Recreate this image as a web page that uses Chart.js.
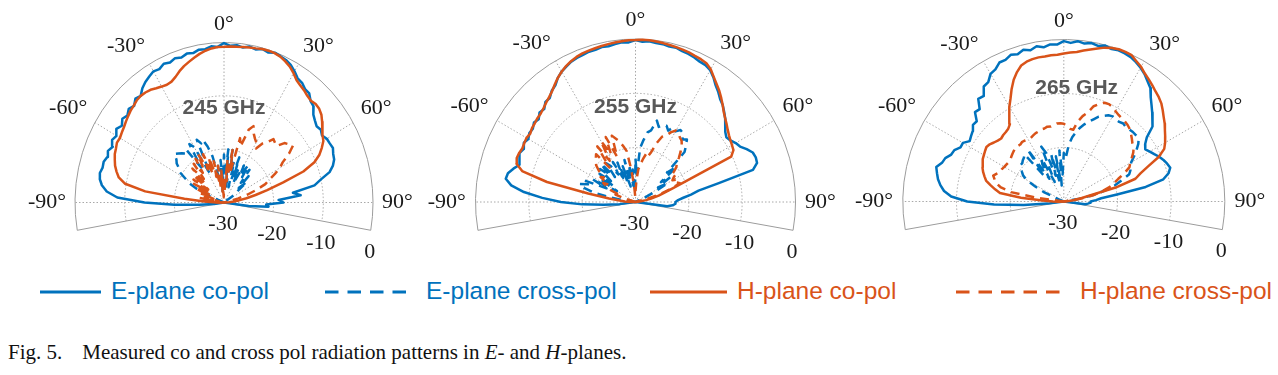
<!DOCTYPE html>
<html>
<head>
<meta charset="utf-8">
<script src="https://cdn.jsdelivr.net/npm/chart.js@4.4.1/dist/chart.umd.min.js"></script>
<style>
    html, body { margin: 0; padding: 0; background: #fff; }
    body { width: 1278px; height: 375px; position: relative; overflow: hidden; }
    .plot { position: absolute; top: 0; width: 426px; height: 270px; }
    .lg { position: absolute; top: 276px; font-family: "Liberation Sans", Arial, sans-serif; font-size: 24.5px; line-height: 30px; white-space: nowrap; }
    #caption { position: absolute; left: 8px; top: 340px; font-family: "Liberation Serif", "Times New Roman", serif; font-size: 21px; white-space: nowrap; color: #111; }
    #caption .gap { display: inline-block; width: 20px; }
</style>
</head>
<body>
<canvas id="plot1" class="plot" style="left:0px" width="426" height="270"></canvas>
<canvas id="plot2" class="plot" style="left:426px" width="426" height="270"></canvas>
<canvas id="plot3" class="plot" style="left:852px" width="426" height="270"></canvas>

<svg width="1278" height="30" style="position:absolute;left:0;top:277px">
    <line x1="40" y1="15" x2="101" y2="15" stroke="#0072BD" stroke-width="3"/>
    <line x1="325" y1="15" x2="409" y2="15" stroke="#0072BD" stroke-width="3" stroke-dasharray="13.5 9"/>
    <line x1="650" y1="15" x2="727" y2="15" stroke="#D95319" stroke-width="3"/>
    <line x1="956" y1="15" x2="1060" y2="15" stroke="#D95319" stroke-width="3" stroke-dasharray="13.5 9"/>
</svg>
<span class="lg" style="left:111px;color:#0072BD">E-plane co-pol</span>
<span class="lg" style="left:426px;color:#0072BD">E-plane cross-pol</span>
<span class="lg" style="left:737px;color:#D95319">H-plane co-pol</span>
<span class="lg" style="left:1080px;color:#D95319">H-plane cross-pol</span>

<div id="caption">Fig. 5.<span class="gap"></span>Measured co and cross pol radiation patterns in <i>E</i>- and <i>H</i>-planes.</div>

<script>
// Angles (deg, 0 = broadside), 2.5 deg steps
const ANGLES = [-100, -97.5, -95, -92.5, -90, -87.5, -85, -82.5,
    -80, -77.5, -75, -72.5, -70, -67.5, -65, -62.5,
    -60, -57.5, -55, -52.5, -50, -47.5, -45, -42.5,
    -40, -37.5, -35, -32.5, -30, -27.5, -25, -22.5,
    -20, -17.5, -15, -12.5, -10, -7.5, -5, -2.5,
    0, 2.5, 5, 7.5, 10, 12.5, 15, 17.5,
    20, 22.5, 25, 27.5, 30, 32.5, 35, 37.5,
    40, 42.5, 45, 47.5, 50, 52.5, 55, 57.5,
    60, 62.5, 65, 67.5, 70, 72.5, 75, 77.5,
    80, 82.5, 85, 87.5, 90, 92.5, 95, 97.5,
    100];

// Axis ticks
const THETA_TICKS = [-90, -60, -30, 0, 30, 60, 90];
const THETA_LIMIT = 100;
const R_TICKS = [-30, -20, -10, 0];
const R_MIN = -30, R_MAX = 0;
const FREQS = ['245 GHz', '255 GHz', '265 GHz'];

// ---- 245 GHz (dB) ----
const E1_CO = [-30, -28, -25, -20, -14, -8.5, -6.3, -5.2,
    -4.6, -4.4, -4.7, -4.6, -5.0, -4.7, -5.3, -4.6,
    -5.0, -4.3, -4.9, -4.2, -4.6, -4.0, -4.4, -3.6,
    -3.9, -3.0, -2.4, -2.0, -1.6, -1.8, -1.3, -1.6,
    -1.2, -1.5, -1.1, -1.3, -0.9, -1.0, -0.6, -0.8,
    -0.1, -0.6, -0.4, -0.7, -0.3, -0.6, -0.2, -0.5,
    -0.1, -0.3, -0.5, -0.9, -1.6, -2.4, -2.6, -3.2,
    -3.3, -4.2, -4.5, -5.6, -6.1, -6.5, -6.2, -6.6,
    -6.1, -6.0, -5.8, -6.2, -6.4, -7.0, -8.0, -10.0,
    -11.5, -16, -14.5, -19, -18, -21.5, -21, -25,
    -30];
const E1_X = [-33, -33, -33, -33, -33, -33, -33, -33,
    -33, -33, -33, -33, -33, -27, -24, -22,
    -21, -19.5, -19, -18, -17.5, -16.5, -17, -17.5,
    -18, -17.5, -22, -17, -18, -24, -17, -18,
    -17.5, -19, -21, -25, -23, -28, -22, -26,
    -21, -25, -20, -27, -20, -24, -22, -27,
    -21, -25, -23, -26, -22, -24, -21.5, -24,
    -22, -25, -23, -26, -24, -27, -28, -33,
    -33, -33, -33, -33, -33, -33, -33, -33,
    -33, -33, -33, -33, -33, -33, -33, -33,
    -33];
const H1_CO = [-32, -32, -31, -30, -28.5, -26, -22, -14,
    -9.8, -8.3, -7.6, -7.0, -6.6, -6.2, -6.0, -5.7,
    -5.8, -5.6, -5.4, -5.1, -4.8, -4.5, -4.3, -4.0,
    -3.9, -4.0, -4.2, -4.6, -4.9, -5.1, -5.0, -4.5,
    -3.8, -3.2, -2.7, -2.2, -1.7, -1.3, -1.0, -0.8,
    -0.8, -0.7, -0.7, -0.6, -0.5, -0.4, -0.2, -0.15,
    -0.2, -0.4, -0.8, -1.3, -2.0, -2.8, -3.2, -3.5,
    -3.9, -4.1, -3.9, -4.0, -4.4, -5.1, -5.9, -6.4,
    -6.9, -7.8, -8.8, -10.3, -13, -17.5, -21, -23.5,
    -25.4, -27, -28, -29, -30, -31, -31, -31,
    -31];
const H1_X = [-33, -33, -33, -33, -33, -28, -26, -28,
    -25, -29, -26, -28, -25, -27, -24, -27,
    -23, -26, -22.5, -26, -22, -25, -21, -24,
    -20.5, -23, -20, -22, -19.5, -23, -20, -24,
    -21, -25, -22, -27, -23, -28, -24, -29,
    -25, -28, -22, -26, -20, -24, -17.5, -19,
    -15.5, -14.5, -15.8, -16.5, -17, -18, -16.5, -15.8,
    -14.5, -14.8, -15, -13.5, -13, -12.5, -14, -16,
    -17, -18.5, -20, -21, -23, -25, -27, -29,
    -33, -33, -33, -33, -33, -33, -33, -33,
    -33];

// ---- 255 GHz (dB) ----
const E2_CO = [-30, -27, -24, -20, -16, -12.5, -9, -6.5,
    -5.3, -5.5, -6.3, -7.2, -6.8, -6.5, -6.9, -6.4,
    -6.8, -6.4, -6.5, -6.0, -6.3, -5.6, -5.8, -5.0,
    -5.0, -4.2, -3.8, -2.9, -2.3, -1.9, -1.5, -1.3,
    -1.2, -1.0, -1.0, -0.8, -0.9, -0.7, -0.5, -0.6,
    -0.2, -0.5, -0.3, -0.5, -0.5, -0.7, -0.6, -0.9,
    -1.0, -1.2, -1.5, -1.6, -2.0, -2.8, -3.8, -4.5,
    -5.3, -5.8, -6.5, -7.2, -8.0, -8.8, -9.2, -8.9,
    -8.3, -7.9, -7.0, -6.2, -6.0, -6.1, -7.2, -14,
    -18, -19.5, -21, -22, -22.5, -22.5, -23, -24,
    -30];
const E2_X = [-33, -33, -33, -33, -33, -33, -33, -28,
    -25, -22, -20, -19, -20.5, -19.5, -24, -21,
    -26, -22, -25, -21.5, -24, -21, -23, -20.5,
    -24, -21, -22, -24, -21.5, -25, -22, -26,
    -23, -27, -22, -26, -23, -27, -24, -28,
    -22, -25, -20, -18.5, -17, -16.5, -14.5, -15.5,
    -15, -14.8, -15.5, -14.5, -15, -14.3, -14.5, -15.5,
    -15, -16, -17, -22, -20, -24, -22, -25,
    -23, -26, -28, -33, -33, -33, -33, -33,
    -33, -33, -33, -33, -33, -33, -33, -33,
    -33];
const H2_CO = [-32, -32, -31, -30, -29, -28, -27, -25,
    -21, -13, -8, -6.6, -6.3, -6.4, -6.6, -6.5,
    -6.4, -6.6, -6.3, -6.2, -6.0, -5.9, -5.6, -5.2,
    -4.8, -4.3, -3.6, -2.9, -2.3, -1.8, -1.4, -1.1,
    -0.9, -0.8, -0.7, -0.6, -0.5, -0.4, -0.3, -0.2,
    -0.2, -0.1, -0.1, -0.2, -0.3, -0.4, -0.5, -0.6,
    -0.7, -0.9, -1.0, -1.2, -1.8, -2.7, -3.5, -4.2,
    -5.0, -5.8, -6.6, -7.2, -7.7, -8.2, -8.6, -8.9,
    -9.1, -9.3, -10.2, -19, -22.5, -24.3, -25.5, -27,
    -28, -29, -30, -31, -31, -31, -31, -31,
    -31];
const H2_X = [-33, -33, -33, -33, -33, -33, -33, -33,
    -33, -33, -33, -28, -26, -27, -25, -24,
    -23, -24, -22, -22.5, -21, -20, -19.5, -19,
    -18.5, -22, -17.5, -21, -17, -20, -16.8, -21,
    -17, -17.8, -18.5, -19.5, -20.5, -24, -27, -29,
    -28, -26, -24, -23, -22, -21, -21.5, -20.5,
    -18.5, -17, -16.5, -15.5, -14.8, -15, -15.5, -15.8,
    -16.5, -17.5, -18.5, -19.5, -20, -21, -20.5, -21.5,
    -22, -21, -21.5, -21, -23, -25, -28, -33,
    -33, -33, -33, -33, -33, -33, -33, -33,
    -33];

// ---- 265 GHz (dB) ----
const E3_CO = [-30, -27, -22.5, -17, -12, -9, -7.6, -6.8,
    -6.2, -5.8, -5.4, -6.2, -6.5, -7.3, -7.5, -8.3,
    -8.3, -9.2, -8.9, -8.6, -7.9, -8.0, -6.6, -6.8,
    -5.2, -5.4, -4.0, -3.8, -2.7, -2.4, -1.6, -1.6,
    -1.1, -1.4, -0.9, -1.3, -0.8, -1.2, -0.8, -0.9,
    -0.3, -0.6, -0.2, -0.5, -0.2, -0.5, -0.1, -0.4,
    -0.2, -0.3, -0.5, -0.9, -1.4, -2.0, -2.8, -3.5,
    -4.8, -5.8, -6.7, -7.6, -8.4, -10.5, -11.5, -12,
    -11.5, -11, -10.4, -9.9, -9.5, -9.2, -9.8, -11,
    -14.5, -20, -23, -24, -25, -25, -25.5, -26,
    -30];
const E3_X = [-33, -33, -33, -33, -33, -33, -33, -33,
    -33, -33, -33, -33, -33, -29, -26, -24,
    -22, -21, -20.5, -20, -19.5, -19.5, -19.2, -19,
    -18.6, -24, -18.2, -25, -22, -21, -26, -19,
    -20.5, -25, -21, -26, -21.5, -27, -20.5, -25,
    -21, -22, -19.5, -18, -17, -16, -15.2, -14.5,
    -13.8, -13, -12.5, -12, -11.8, -12, -12, -11.8,
    -12, -11.9, -11.8, -11.8, -11.8, -12.5, -13.5, -14.5,
    -15.5, -16, -16.3, -16.8, -18.5, -20, -22, -24,
    -27, -33, -33, -33, -33, -33, -33, -33,
    -33];
const H3_CO = [-32, -31, -30, -29, -28, -26, -22, -18,
    -17, -16, -15, -14.5, -14, -13.6, -13.3, -13,
    -12.8, -12.6, -12.4, -12.6, -13, -13.3, -13.5, -13.3,
    -13.2, -13, -12.5, -11, -9.8, -8.5, -7, -5.6,
    -4.5, -3.6, -3.2, -3.0, -2.9, -2.9, -2.8, -2.8,
    -2.6, -2.4, -2.2, -1.8, -1.4, -1.0, -0.5, -0.2,
    0, 0, -0.1, -0.7, -1.2, -1.9, -2.4, -2.9,
    -3.4, -3.8, -4.3, -5.0, -5.7, -6.3, -7.0, -7.6,
    -8.2, -8.9, -10.5, -13, -14.8, -16, -20, -25.5,
    -27, -28, -29, -30, -30, -31, -31, -31,
    -31];
const H3_X = [-33, -33, -33, -33, -33, -33, -33, -25,
    -20, -18, -17, -16.5, -16, -16.5, -17, -17,
    -17.2, -17.3, -17.4, -17.4, -17.2, -17, -16.8, -16.6,
    -16.6, -16.7, -16.5, -16.6, -16.7, -16.7, -16.5, -16.3,
    -16.2, -16, -16, -15.8, -15.9, -15.7, -15.5, -15.5,
    -15.6, -16, -16.5, -16.6, -15, -13.8, -13, -11.5,
    -10.8, -10.2, -10.1, -10.3, -10.7, -11, -11.2, -11.3,
    -11.5, -11.8, -12.3, -12.8, -13.3, -13.6, -14.2, -15,
    -15.7, -16.2, -17.5, -19, -20, -21, -22.5, -24,
    -26, -33, -33, -33, -33, -33, -33, -33,
    -33];

const BLUE = '#0072BD';
const ORANGE = '#D95319';
const GRID = '#9c9c9c';
const SERIF = '"Liberation Serif", "Times New Roman", serif';
const SANS = '"Liberation Sans", Arial, sans-serif';

// Pixel geometry of each polar panel (center and radii are in page px)
const panels = [
    { id: 'plot1', left: 0,   cx: 224,    cy: 202.5, rx: 149, ry: 160, tx: 0,    ty: 0.59, data: [E1_CO, E1_X, H1_CO, H1_X] },
    { id: 'plot2', left: 426, cx: 635.5,  cy: 202,   rx: 160, ry: 163, tx: 0,    ty: 0.58, data: [E2_CO, E2_X, H2_CO, H2_X] },
    { id: 'plot3', left: 852, cx: 1063.8, cy: 201.5, rx: 161, ry: 162, tx: 0.08, ty: 0.70, data: [E3_CO, E3_X, H3_CO, H3_X] }
];

// dB -> normalised radius, clipped to the rlim like the original plot
function toXY(values) {
    return ANGLES.map((a, i) => {
        const v = Math.min(values[i], R_MAX);
        const r = Math.max(0, (v - R_MIN) / (R_MAX - R_MIN));
        const t = a * Math.PI / 180;
        return { x: r * Math.sin(t), y: r * Math.cos(t) };
    });
}

function series(values, color, dashed) {
    return {
        data: toXY(values),
        showLine: true,
        borderColor: color,
        borderWidth: 2.5,
        borderDash: dashed ? [9, 6] : [],
        borderJoinStyle: 'round',
        pointRadius: 0,
        tension: 0,
        fill: false
    };
}

// Grid, tick labels and frequency label
const polarGrid = {
    id: 'polarGrid',
    beforeDatasetsDraw(chart) {
        const { ctx, scales: { x, y } } = chart;
        const cx = x.getPixelForValue(0), cy = y.getPixelForValue(0);
        const sx = x.getPixelForValue(1) - cx, sy = cy - y.getPixelForValue(1);
        const a0 = (-90 - THETA_LIMIT) * Math.PI / 180;
        const a1 = (-90 + THETA_LIMIT) * Math.PI / 180;
        ctx.save();

        // rings
        R_TICKS.forEach(t => {
            const f = (t - R_MIN) / (R_MAX - R_MIN);
            if (f <= 0) return;
            ctx.beginPath();
            ctx.ellipse(cx, cy, sx * f, sy * f, 0, a0, a1);
            if (t === R_MAX) {
                ctx.setLineDash([]);
                ctx.strokeStyle = GRID;
            } else {
                ctx.setLineDash([1.5, 2]);
                ctx.strokeStyle = '#a8a8a8';
            }
            ctx.lineWidth = 1;
            ctx.stroke();
        });

        // spokes
        ctx.setLineDash([1.5, 2]);
        ctx.strokeStyle = '#a8a8a8';
        THETA_TICKS.forEach(t => {
            const r = t * Math.PI / 180;
            ctx.beginPath();
            ctx.moveTo(cx, cy);
            ctx.lineTo(cx + sx * Math.sin(r), cy - sy * Math.cos(r));
            ctx.stroke();
        });

        // edges of the theta range
        ctx.setLineDash([]);
        ctx.strokeStyle = GRID;
        [-THETA_LIMIT, THETA_LIMIT].forEach(t => {
            const r = t * Math.PI / 180;
            ctx.beginPath();
            ctx.moveTo(cx, cy);
            ctx.lineTo(cx + sx * Math.sin(r), cy - sy * Math.cos(r));
            ctx.stroke();
        });
        ctx.restore();
    },
    afterDatasetsDraw(chart, args, opts) {
        const { ctx, scales: { x, y } } = chart;
        const cx = x.getPixelForValue(0), cy = y.getPixelForValue(0);
        const sx = x.getPixelForValue(1) - cx, sy = cy - y.getPixelForValue(1);
        ctx.save();
        ctx.fillStyle = '#1a1a1a';
        ctx.font = '22px ' + SERIF;
        ctx.textAlign = 'center';
        ctx.textBaseline = 'middle';

        // theta labels, pushed out by half their width
        THETA_TICKS.forEach(t => {
            const r = t * Math.PI / 180;
            const label = t + '\u00B0';
            const w = ctx.measureText(label).width;
            const s = Math.sin(r), c = Math.cos(r);
            const sgnS = Math.abs(s) < 1e-6 ? 0 : Math.sign(s);
            const sgnC = Math.abs(c) < 1e-6 ? 0 : Math.sign(c);
            const px = cx + 1.06 * sx * s + (w / 2) * sgnS;
            const py = cy - 1.06 * sy * c - 9 * sgnC;
            ctx.fillText(label, px, py);
        });

        // radial labels along the right edge
        const e = THETA_LIMIT * Math.PI / 180;
        R_TICKS.forEach(t => {
            const f = (t - R_MIN) / (R_MAX - R_MIN);
            const px = cx + sx * f * Math.sin(e) - 1;
            const py = cy - sy * f * Math.cos(e) + 22;
            ctx.fillText(String(t), px, py);
        });

        // frequency label
        ctx.fillStyle = '#595959';
        ctx.font = 'bold 21px ' + SANS;
        ctx.fillText(opts.title, x.getPixelForValue(opts.tx), y.getPixelForValue(opts.ty));
        ctx.restore();
    }
};

function createPanel(p, idx) {
    const canvas = document.getElementById(p.id);
    const w = canvas.width, h = canvas.height;
    const ox = p.cx - p.left;
    const [eCo, eX, hCo, hX] = p.data;
    return new Chart(canvas, {
        type: 'scatter',
        data: {
            datasets: [
                series(hX, ORANGE, true),
                series(hCo, ORANGE, false),
                series(eX, BLUE, true),
                series(eCo, BLUE, false)
            ]
        },
        options: {
            responsive: false,
            animation: false,
            events: [],
            layout: { padding: 0 },
            plugins: {
                legend: { display: false },
                tooltip: { enabled: false },
                polarGrid: { title: FREQS[idx], tx: p.tx, ty: p.ty }
            },
            scales: {
                x: { type: 'linear', display: false, min: -ox / p.rx, max: (w - ox) / p.rx },
                y: { type: 'linear', display: false, min: -(h - p.cy) / p.ry, max: p.cy / p.ry }
            }
        },
        plugins: [polarGrid]
    });
}

panels.forEach(createPanel);
</script>
</body>
</html>
